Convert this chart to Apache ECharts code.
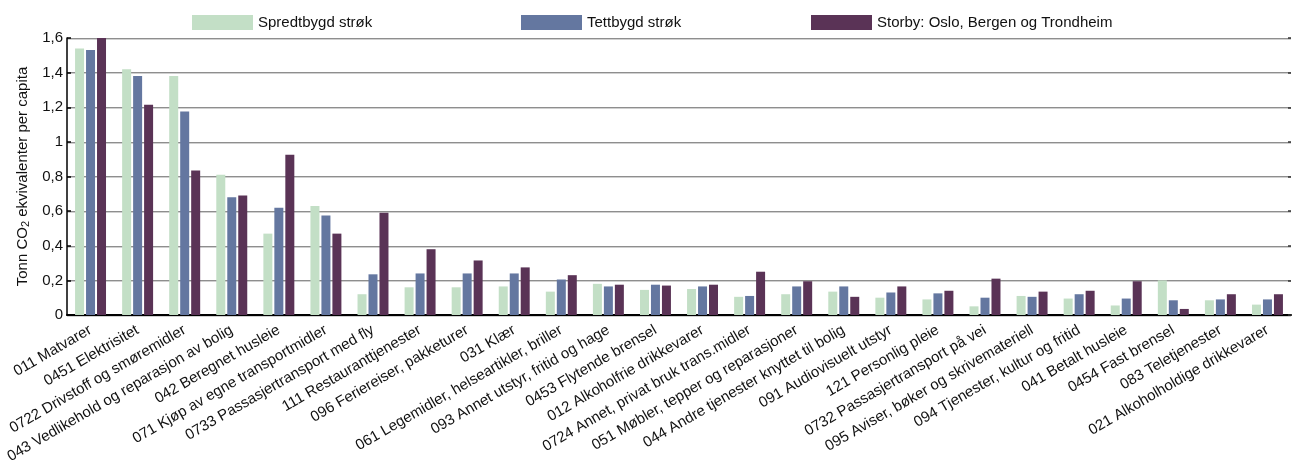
<!DOCTYPE html>
<html>
<head>
<meta charset="utf-8">
<title>Klimagassutslipp per capita etter bosted</title>
<script src="https://cdn.jsdelivr.net/npm/echarts@6/dist/echarts.min.js"></script>
<style>
  html, body { margin: 0; padding: 0; background: #fff; }
  #chart { width: 1293px; height: 467px; }
</style>
</head>
<body>
<div id="chart"></div>
<script>
// Consumption categories (COICOP codes)
const categories = [
  '011 Matvarer',
  '0451 Elektrisitet',
  '0722 Drivstoff og smøremidler',
  '043 Vedlikehold og reparasjon av bolig',
  '042 Beregnet husleie',
  '071 Kjøp av egne transportmidler',
  '0733 Passasjertransport med fly',
  '111 Restauranttjenester',
  '096 Feriereiser, pakketurer',
  '031 Klær',
  '061 Legemidler, helseartikler, briller',
  '093 Annet utstyr, fritid og hage',
  '0453 Flytende brensel',
  '012 Alkoholfrie drikkevarer',
  '0724 Annet, privat bruk trans.midler',
  '051 Møbler, tepper og reparasjoner',
  '044 Andre tjenester knyttet til bolig',
  '091 Audiovisuelt utstyr',
  '121 Personlig pleie',
  '0732 Passasjertransport på vei',
  '095 Aviser, bøker og skrivemateriell',
  '094 Tjenester, kultur og fritid',
  '041 Betalt husleie',
  '0454 Fast brensel',
  '083 Teletjenester',
  '021 Alkoholholdige drikkevarer'
];

// Tonnes CO2 equivalents per capita
const spredtbygd = [1.54, 1.42, 1.38, 0.81, 0.47, 0.63, 0.12, 0.16, 0.16, 0.165, 0.135, 0.18, 0.145, 0.15, 0.105, 0.12, 0.135, 0.10, 0.09, 0.05, 0.11, 0.095, 0.055, 0.20, 0.085, 0.06];
const tettbygd   = [1.53, 1.38, 1.175, 0.68, 0.62, 0.575, 0.235, 0.24, 0.24, 0.24, 0.205, 0.165, 0.175, 0.165, 0.11, 0.165, 0.165, 0.13, 0.125, 0.10, 0.105, 0.12, 0.095, 0.085, 0.09, 0.09];
const storby     = [1.60, 1.215, 0.835, 0.69, 0.925, 0.47, 0.59, 0.38, 0.315, 0.275, 0.23, 0.175, 0.17, 0.175, 0.25, 0.195, 0.105, 0.165, 0.14, 0.21, 0.135, 0.14, 0.195, 0.035, 0.12, 0.12];

const seriesNames = ['Spredtbygd strøk', 'Tettbygd strøk', 'Storby: Oslo, Bergen og Trondheim'];
const seriesColors = ['#c3dfc6', '#6477a0', '#5a3356'];

const yTicks = { min: 0, max: 1.6, interval: 0.2 };

const font = 'Liberation Sans, Arial, sans-serif';
const chart = echarts.init(document.getElementById('chart'), null, { renderer: 'canvas' });

const legendLefts = [192, 521, 811];
const legends = seriesNames.map((name, i) => ({
  data: [{ name: name, icon: 'rect' }],
  left: legendLefts[i],
  top: 15,
  itemWidth: 61,
  itemHeight: 15,
  padding: 0,
  selectedMode: false,
  textStyle: { fontFamily: font, fontSize: 15, color: '#111' }
}));

const gridLine = {
  show: true,
  lineStyle: { color: '#8e8e8e', width: 1, shadowColor: '#d0d0d0', shadowOffsetY: 1, shadowBlur: 0 }
};

const option = {
  animation: false,
  legend: legends,
  grid: { left: 67, right: 2, top: 38, bottom: 152, containLabel: false },
  xAxis: {
    type: 'category',
    data: categories,
    axisLine: { lineStyle: { color: '#000', width: 2 } },
    axisTick: { show: false },
    axisLabel: {
      interval: 0,
      rotate: 30,
      margin: 14,
      fontFamily: font,
      fontSize: 15,
      color: '#111'
    }
  },
  yAxis: [
    {
      type: 'value',
      min: yTicks.min,
      max: yTicks.max,
      interval: yTicks.interval,
      name: 'Tonn CO{sub|2} ekvivalenter per capita',
      nameLocation: 'middle',
      nameGap: 31,
      nameTextStyle: {
        fontFamily: font,
        fontSize: 15,
        color: '#111',
        rich: {
          sub: { fontFamily: font, fontSize: 11, color: '#111', verticalAlign: 'bottom', padding: [6, 0, 0, 0] }
        }
      },
      axisLine: { show: true, lineStyle: { color: '#000', width: 1.5 } },
      axisTick: { show: true, inside: true, length: 4, lineStyle: { color: '#000', width: 1.5 } },
      splitLine: gridLine,
      axisLabel: {
        margin: 4,
        fontFamily: font,
        fontSize: 15,
        color: '#111',
        formatter: v => String(Number(v.toFixed(1))).replace('.', ',')
      }
    },
    {
      type: 'value',
      position: 'right',
      min: yTicks.min,
      max: yTicks.max,
      interval: yTicks.interval,
      axisLine: { show: false },
      axisTick: { show: true, inside: true, length: 3, lineStyle: { color: '#333', width: 1.5 } },
      splitLine: { show: false },
      axisLabel: { show: false }
    }
  ],
  series: [spredtbygd, tettbygd, storby].map((values, i) => ({
    name: seriesNames[i],
    type: 'bar',
    data: values,
    barWidth: 9,
    barGap: '22%',
    itemStyle: { color: seriesColors[i] }
  }))
};

chart.setOption(option);
</script>
</body>
</html>
